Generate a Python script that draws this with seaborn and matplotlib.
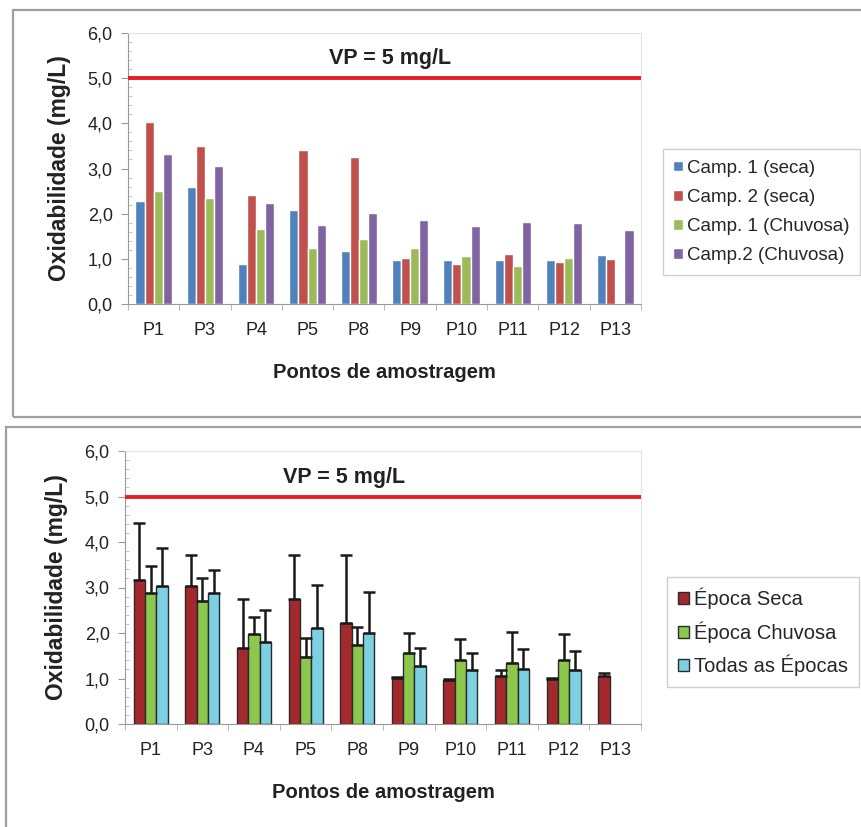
import numpy as np
import pandas as pd
import matplotlib
matplotlib.use("Agg")
import matplotlib.pyplot as plt
from matplotlib.patches import Rectangle
from matplotlib.ticker import FuncFormatter, MultipleLocator, FixedLocator
import seaborn as sns

# data
pontos = ['P1', 'P3', 'P4', 'P5', 'P8', 'P9', 'P10', 'P11', 'P12', 'P13']

# top chart: one value per campaign
camp1_seca = [2.28, 2.59, 0.89, 2.08, 1.18, 0.98, 0.98, 0.98, 0.98, 1.09]
camp2_seca = [4.04, 3.49, 2.41, 3.40, 3.26, 1.01, 0.88, 1.11, 0.93, 1.00]
camp1_chuvosa = [2.51, 2.35, 1.67, 1.23, 1.45, 1.23, 1.07, 0.84, 1.01, np.nan]
camp2_chuvosa = [3.31, 3.06, 2.24, 1.76, 2.01, 1.85, 1.72, 1.81, 1.79, 1.63]
series_top = ['Camp. 1 (seca)', 'Camp. 2 (seca)', 'Camp. 1 (Chuvosa)', 'Camp.2 (Chuvosa)']
colors_top = ['#4F81BD', '#C0504D', '#9BBB59', '#8064A2']

# bottom chart: means and (upper) error per season
seca_media = [3.16, 3.03, 1.66, 2.75, 2.23, 1.02, 0.96, 1.06, 1.00, 1.06]
seca_erro = [1.26, 0.68, 1.08, 0.96, 1.48, 0.01, 0.04, 0.12, 0.01, 0.06]
chuvosa_media = [2.89, 2.70, 1.97, 1.48, 1.74, 1.55, 1.41, 1.34, 1.41, np.nan]
chuvosa_erro = [0.59, 0.51, 0.39, 0.42, 0.40, 0.46, 0.46, 0.69, 0.57, np.nan]
todas_media = [3.04, 2.89, 1.81, 2.12, 1.99, 1.27, 1.19, 1.21, 1.19, np.nan]
todas_erro = [0.82, 0.49, 0.69, 0.93, 0.92, 0.41, 0.36, 0.43, 0.41, np.nan]
series_bot = ['Época Seca', 'Época Chuvosa', 'Todas as Épocas']
colors_bot = ['#A3292C', '#8DC84E', '#7DD0E2']

sns.set_style('white')
plt.rcParams['font.family'] = ['Liberation Sans', 'DejaVu Sans']

fig = plt.figure(figsize=(8.62, 8.27), dpi=100)

# grey frames around each panel
fig.patches.append(Rectangle((13/862, 1-417/827), 1.0, 407/827, transform=fig.transFigure,
                             fill=False, ec='#a0a0a0', lw=1.6))
fig.patches.append(Rectangle((6/862, -0.1), 1.0, (827-427)/827+0.1, transform=fig.transFigure,
                             fill=False, ec='#a0a0a0', lw=1.6))


def style_axes(ax):
    ax.set_ylim(0, 6)
    ax.set_xlim(-0.5, 9.5)
    ax.yaxis.set_major_locator(MultipleLocator(1))
    ax.yaxis.set_minor_locator(MultipleLocator(0.2))
    ax.yaxis.set_major_formatter(FuncFormatter(lambda v, p: f'{v:.1f}'.replace('.', ',')))
    ax.xaxis.set_minor_locator(FixedLocator(np.arange(-0.5, 10, 1)))
    ax.tick_params(axis='x', which='major', bottom=True, length=0, pad=13, labelsize=13, labelcolor='#222')
    ax.tick_params(axis='x', which='minor', bottom=True, length=4, direction='out', color='#aaaaaa')
    ax.tick_params(axis='y', which='major', left=True, length=5, direction='out', color='#999999',
                   labelsize=13, pad=6, labelcolor='#222')
    ax.tick_params(axis='y', which='minor', left=True, length=3, direction='in', color='#bbbbbb')
    for s in ['left', 'bottom']:
        ax.spines[s].set_color('#999999')
    for s in ['top', 'right']:
        ax.spines[s].set_color('#e2e2e2')
    ax.set_xlabel('Pontos de amostragem', fontsize=14.5, fontweight='bold', labelpad=17, color='#222')
    ax.set_ylabel('Oxidabilidade (mg/L)', fontsize=16.5, fontweight='bold', labelpad=12, color='#222')
    ax.axhline(5, color='#E51E25', lw=2.8, zorder=5)


"""top chart"""
ax1 = fig.add_axes([128/862, 1-304/827, (641-128)/862, (304-33)/827])
df_top = pd.DataFrame({'ponto': pontos * 4,
                       'serie': np.repeat(series_top, len(pontos)),
                       'valor': camp1_seca + camp2_seca + camp1_chuvosa + camp2_chuvosa}).dropna()
sns.barplot(data=df_top, x='ponto', y='valor', hue='serie', order=pontos, hue_order=series_top,
            palette=colors_top, saturation=1, width=0.71, errorbar=None, ax=ax1)
style_axes(ax1)
ax1.text(4.6, 5.44, 'VP = 5 mg/L', ha='center', va='center', fontsize=15.5, fontweight='bold', color='#222')
ax1.legend(loc='center left', bbox_to_anchor=(663/862, 1-212/827), bbox_transform=fig.transFigure,
           fontsize=13.5, frameon=True, fancybox=False, edgecolor='#cfcfcf', framealpha=1,
           handlelength=0.5, handleheight=0.5, handletextpad=0.25, labelspacing=0.65,
           borderpad=0.55, borderaxespad=0)

"""bottom chart"""
ax2 = fig.add_axes([125/862, 1-724/827, (641-125)/862, (724-451)/827])
df_bot = pd.DataFrame({'ponto': pontos * 3,
                       'serie': np.repeat(series_bot, len(pontos)),
                       'valor': seca_media + chuvosa_media + todas_media}).dropna()
sns.barplot(data=df_bot, x='ponto', y='valor', hue='serie', order=pontos, hue_order=series_bot,
            palette=colors_bot, saturation=1, width=0.66, errorbar=None, ax=ax2,
            edgecolor='#2b2b2b', linewidth=1.0)
style_axes(ax2)

# upper error bars, placed on the bars seaborn drew
erros = {'Época Seca': (seca_media, seca_erro),
         'Época Chuvosa': (chuvosa_media, chuvosa_erro),
         'Todas as Épocas': (todas_media, todas_erro)}
for cont, nome in zip(ax2.containers, series_bot):
    medias, errs = erros[nome]
    for bar in cont:
        xc = bar.get_x() + bar.get_width() / 2
        i = int(round(xc))
        if np.isnan(errs[i]):
            continue
        ax2.errorbar(xc, medias[i], yerr=[[0], [errs[i]]], fmt='none', ecolor='#1a1a1a',
                     elinewidth=1.8, capsize=4.5, capthick=1.8, zorder=4)

ax2.text(3.74, 5.41, 'VP = 5 mg/L', ha='center', va='center', fontsize=15.5, fontweight='bold', color='#222')
ax2.legend(loc='center left', bbox_to_anchor=(667/862, 1-632/827), bbox_transform=fig.transFigure,
           fontsize=14.5, frameon=True, fancybox=False, edgecolor='#cfcfcf', framealpha=1,
           handlelength=0.55, handleheight=0.55, handletextpad=0.25, labelspacing=0.6,
           borderpad=0.55, borderaxespad=0)

fig.savefig('out.png', dpi=100)
